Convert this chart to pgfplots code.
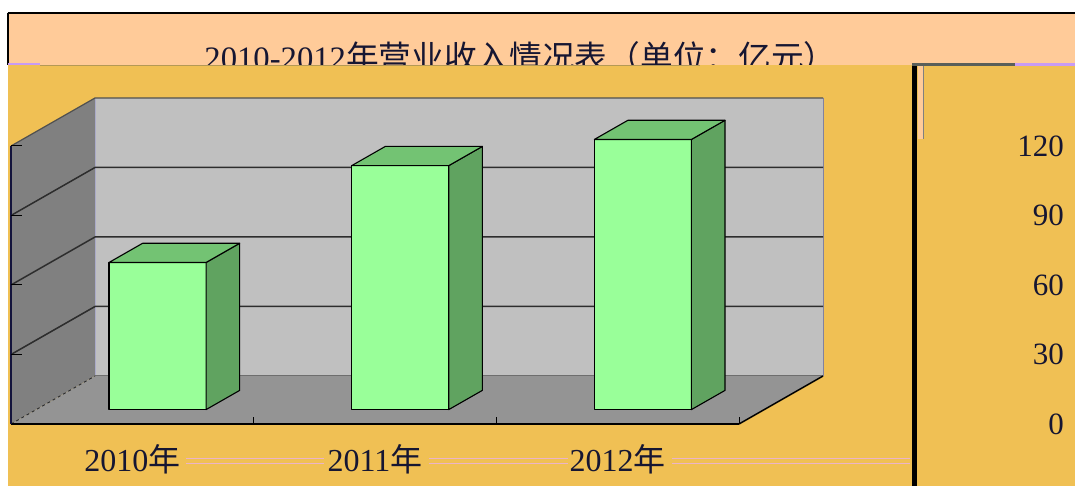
\documentclass[border=0pt]{standalone}
\usepackage{fontspec}
\setmainfont{Liberation Serif}
\newfontfamily\cjk{Noto Sans CJK SC}
\usepackage{pgfplots}
\pgfplotsset{compat=1.18}
\definecolor{peach}{RGB}{255,203,153}
\definecolor{orangebg}{RGB}{240,192,84}
\definecolor{backwall}{RGB}{192,192,192}
\definecolor{sidewall}{RGB}{128,128,128}
\definecolor{floorc}{RGB}{148,148,148}
\definecolor{barfront}{RGB}{153,255,153}
\definecolor{barside}{RGB}{96,163,96}
\definecolor{bartop}{RGB}{115,195,115}
\definecolor{gridc}{RGB}{45,45,45}
\definecolor{lav}{RGB}{200,155,245}
\definecolor{stripgray}{RGB}{90,95,90}
\definecolor{textc}{RGB}{22,22,50}
\definecolor{pinkc}{RGB}{235,180,200}
\newcommand{\bbar}[3]{%
  \addplot3[fill=barfront, draw=black, line width=1.1pt, line join=round] coordinates {(#1,0.3,0) (#2,0.3,0) (#2,0.3,#3) (#1,0.3,#3)} --cycle;
  \addplot3[fill=barside, draw=black, line width=1.1pt, line join=round] coordinates {(#2,0.3,0) (#2,0.7,0) (#2,0.7,#3) (#2,0.3,#3)} --cycle;
  \addplot3[fill=bartop, draw=black, line width=1.1pt, line join=round] coordinates {(#1,0.3,#3) (#2,0.3,#3) (#2,0.7,#3) (#1,0.7,#3)} --cycle;
}
\begin{document}
\begin{tikzpicture}
% background
\fill[white] (0pt,0pt) rectangle (1075pt,486pt);
% top title band
\fill[peach] (8pt,420pt) rectangle (1075pt,472pt);
\draw[black, line width=2pt] (7.5pt,473pt) -- (1075pt,473pt);
\draw[black, line width=1.2pt] (8pt,473pt) -- (8pt,421pt);
\node[anchor=base, text=textc, inner sep=0pt] at (520.5pt,416pt)
  {\fontsize{32.7}{32.7}\selectfont 2010-2012{\cjk 年营业收入情况表（单位：亿元）}};
% main orange area (covers bottom of title)
\fill[orangebg] (7.5pt,0pt) rectangle (912pt,421pt);
\fill[lav] (8pt,420.5pt) rectangle (40pt,422.5pt);
\fill[stripgray!40!orangebg] (40pt,419.5pt) rectangle (700pt,421pt);
% right panel
\fill[orangebg] (917pt,0pt) rectangle (1075pt,420pt);
\fill[stripgray] (912pt,420pt) rectangle (1015pt,423pt);
\fill[lav] (1015pt,420pt) rectangle (1075pt,423pt);
\fill[black] (912pt,0pt) rectangle (917pt,420pt);
\fill[peach] (918pt,347pt) rectangle (923pt,420pt);
\draw[gray, line width=0.8pt] (923.5pt,347pt) -- (923.5pt,420pt);
% pink junk lines
\foreach \a/\b in {186/324, 429/568, 672/910} {
  \draw[pinkc, line width=0.8pt] (\a pt,28pt) -- (\b pt,28pt);
  \draw[pinkc, line width=0.8pt] (\a pt,23pt) -- (\b pt,23pt);
}
\begin{axis}[
  at={(11pt,62pt)}, anchor=origin,
  x={(242.67pt,0pt)}, y={(84pt,48pt)}, z={(0pt,2.3167pt)},
  xmin=0, xmax=3, ymin=0, ymax=1, zmin=0, zmax=120,
  hide axis, clip=false,
]
% walls and floor
\addplot3[fill=backwall, draw=none] coordinates {(0,1,0) (3,1,0) (3,1,120) (0,1,120)} --cycle;
\addplot3[fill=sidewall, draw=none] coordinates {(0,0,0) (0,1,0) (0,1,120) (0,0,120)} --cycle;
\addplot3[fill=floorc, draw=none] coordinates {(0,0,0) (3,0,0) (3,1,0) (0,1,0)} --cycle;
% wall edges
\addplot3[draw={rgb,255:red,170;green,170;blue,200}, line width=0.8pt] coordinates {(0,1,0) (0,1,120)};
\addplot3[draw={rgb,255:red,130;green,130;blue,160}, line width=0.8pt] coordinates {(3,1,0) (3,1,120)};
\addplot3[draw={rgb,255:red,110;green,110;blue,110}, line width=1pt] coordinates {(0,1,0) (3,1,0)};
% gridlines
\addplot3[draw=gridc, line width=1.5pt] coordinates {(0,0,30) (0,1,30) (3,1,30)};
\addplot3[draw=gridc, line width=1.5pt] coordinates {(0,0,60) (0,1,60) (3,1,60)};
\addplot3[draw=gridc, line width=1.5pt] coordinates {(0,0,90) (0,1,90) (3,1,90)};
\addplot3[draw={rgb,255:red,80;green,80;blue,80}, line width=1.2pt] coordinates {(0,0,120) (0,1,120) (3,1,120)};
% floor edges
\addplot3[draw=gridc, dashed, line width=0.9pt] coordinates {(0,0,0) (0,1,0)};
\addplot3[draw=black, line width=1.5pt] coordinates {(3,0,0) (3,1,0)};
\addplot3[draw=black, line width=2pt] coordinates {(0,0,0) (3,0,0)};
\addplot3[draw=black, line width=1pt] coordinates {(1,0,0) (1,0,3)};
\addplot3[draw=black, line width=1pt] coordinates {(2,0,0) (2,0,3)};
\addplot3[draw=black, line width=1pt] coordinates {(3,0,0) (3,0,3)};
% front value axis
\addplot3[draw={rgb,255:red,20;green,20;blue,60}, line width=1.5pt] coordinates {(0,0,0) (0,0,120)};
\addplot3[draw=black, line width=1pt] coordinates {(0,0,30) (0.045,0,30)};
\addplot3[draw=black, line width=1pt] coordinates {(0,0,60) (0.045,0,60)};
\addplot3[draw=black, line width=1pt] coordinates {(0,0,90) (0.045,0,90)};
\addplot3[draw=black, line width=1pt] coordinates {(0,0,120) (0.045,0,120)};
% bars: 2010, 2011, 2012
\bbar{0.3}{0.7}{63.5}
\bbar{1.3}{1.7}{105.3}
\bbar{2.3}{2.7}{116.6}
% category labels
\node[anchor=base, text=textc, inner sep=0pt] at (axis cs:0.5,0,-20.7) {\fontsize{32}{32}\selectfont 2010{\cjk 年}};
\node[anchor=base, text=textc, inner sep=0pt] at (axis cs:1.5,0,-20.7) {\fontsize{32}{32}\selectfont 2011{\cjk 年}};
\node[anchor=base, text=textc, inner sep=0pt] at (axis cs:2.5,0,-20.7) {\fontsize{32}{32}\selectfont 2012{\cjk 年}};
% right value labels
\foreach \v in {0,30,60,90,120} {
  \edef\tmp{\noexpand\node[anchor=east, text=textc, inner sep=0pt] at (axis cs:4.339,0,\v) {\noexpand\fontsize{31}{31}\noexpand\selectfont \v};}
  \tmp
}
\end{axis}
\pgfresetboundingbox
\path (0pt,0pt) rectangle (1075pt,486pt);
\end{tikzpicture}
\end{document}
